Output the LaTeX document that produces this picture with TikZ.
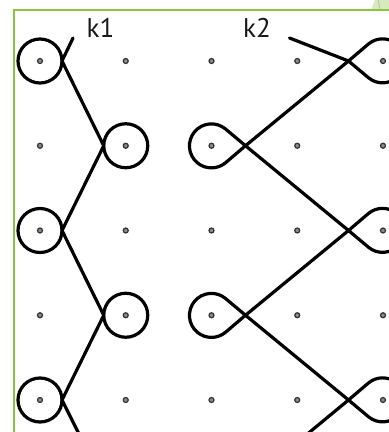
\documentclass[tikz,border=0pt]{standalone}
\usepackage{fontspec}
\setsansfont{PT Sans}
\usepackage{tikz}
\usetikzlibrary{calc}
\definecolor{framegreen}{RGB}{141,196,62}
\definecolor{palegreen}{RGB}{214,234,190}

\begin{document}
\begin{tikzpicture}[
  x=1pt, y=1pt,
  knot/.style={line width=3.2pt, line join=round, line cap=round},
  dot/.style={circle, draw=black!80, line width=1.2pt, fill=black!45, inner sep=0pt, minimum size=5pt},
  lab/.style={anchor=base, font=\sffamily\fontsize{27}{27}\selectfont, text=black!90}
]
\useasboundingbox (0,0) rectangle (389,432);
\fill[white] (0,0) rectangle (389,432);

% frame
\fill[palegreen] (371,422) -- (375,432) -- (389,432) -- (389,422) -- cycle;
\draw[black!30, line width=0.6pt] (380,423) -- (378,432);
\draw[framegreen, line width=2.2pt] (14,-2) -- (14,422) -- (391,422);

% grid of dots
\foreach \i in {0,...,4}
  \foreach \j in {0,...,4}
    \node[dot] (d\i\j) at ({40+85.75*\i}, {371-84.75*\j}) {};

% labels
\node[lab] (lab1) at (100.5,394) {k1};
\node[lab] (lab2) at (257,394) {k2};

% k1 strand
\foreach \p in {00,11,02,13,04}
  \draw[knot] (d\p.center) circle[radius=22pt];
\coordinate (a0) at ([xshift=22pt]d00.center);
\coordinate (a1) at ([xshift=-22pt]d11.center);
\coordinate (a2) at ([xshift=22pt]d02.center);
\coordinate (a3) at ([xshift=-22pt]d13.center);
\coordinate (a4) at ([xshift=22pt]d04.center);
\coordinate (k1top) at ([shift={(11pt,23pt)}]a0);
\coordinate (k1end) at ([shift={(21pt,-42pt)}]a4);
\draw[knot] (k1top) -- (a0) -- (a1) -- (a2) -- (a3) -- (a4) -- (k1end);

% k2 strand
\coordinate (b0) at ([xshift=-34.5pt]d40.center);
\coordinate (b1) at ([xshift=34pt]d21.center);
\coordinate (b2) at ([xshift=-34.5pt]d42.center);
\coordinate (b3) at ([xshift=34pt]d23.center);
\coordinate (b4) at ([xshift=-34.5pt]d44.center);
\coordinate (k2top) at ([shift={(-59pt,23pt)}]b0);
\coordinate (k2end) at ([shift={(-52pt,-43pt)}]b4);
\draw[knot] (k2top) -- (b0) -- (b1) -- (b2) -- (b3) -- (b4) -- (k2end);
\foreach \b in {b0,b2,b4}
  \draw[knot] (\b) -- ++(-40:26pt) arc[start angle=-130, end angle=130, radius=22pt] -- (\b);
\foreach \b in {b1,b3}
  \draw[knot] (\b) -- ++(140:26pt) arc[start angle=50, end angle=310, radius=22pt] -- (\b);
\end{tikzpicture}
\end{document}
